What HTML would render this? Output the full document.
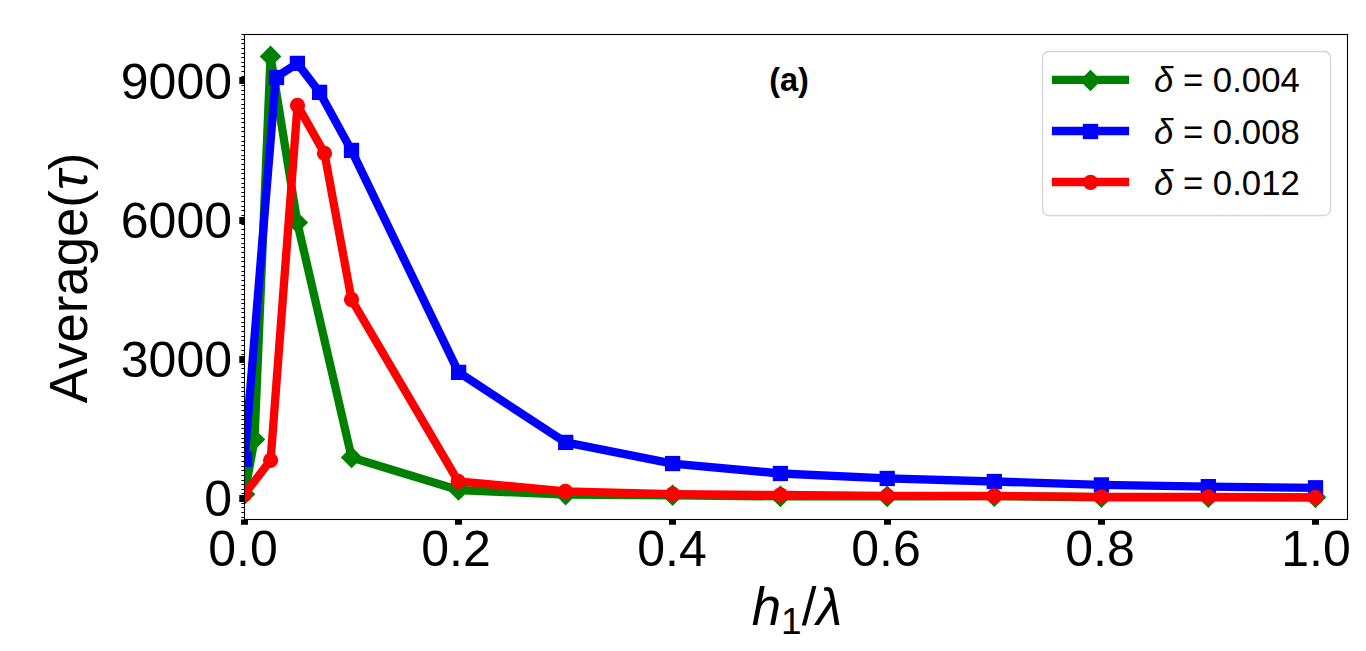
<!DOCTYPE html>
<html><head><meta charset="utf-8"><title>Average(tau) vs h1/lambda</title>
<style>
html,body{margin:0;padding:0;background:#fff;}
body{width:1366px;height:651px;overflow:hidden;position:relative;font-family:"Liberation Sans",sans-serif;}
svg{display:block;position:absolute;left:0;top:0;}
svg text{font-family:"Liberation Sans",sans-serif;fill:#000;}
</style></head><body>
<svg width="1366" height="651" viewBox="0 0 1366 651"><defs><clipPath id="ax"><rect x="244.5" y="34.5" width="1103" height="485"/></clipPath></defs>
<rect x="0" y="0" width="1366" height="651" fill="#ffffff"/>
<g clip-path="url(#ax)">
<path d="M244.5 494.3 L254.5 439.45 L270.55 56.4 L297.3 222.45 L351.6 457.4 L458.5 490 L565.6 494.6 L672.6 495.25 L780.4 496.4 L887.2 496.4 L994.3 496.2 L1101.4 497.25 L1208.3 497.25 L1315.5 497.35" fill="none" stroke="#008000" stroke-width="8.33" stroke-linejoin="round" stroke-linecap="square"/><path d="M244.5 484.48 L254.32 494.3 L244.5 504.12 L234.68 494.3 Z" fill="#008000" stroke="#008000" stroke-width="1.39" stroke-linejoin="miter"/><path d="M254.5 429.63 L264.32 439.45 L254.5 449.27 L244.68 439.45 Z" fill="#008000" stroke="#008000" stroke-width="1.39" stroke-linejoin="miter"/><path d="M270.55 46.58 L280.37 56.4 L270.55 66.22 L260.73 56.4 Z" fill="#008000" stroke="#008000" stroke-width="1.39" stroke-linejoin="miter"/><path d="M297.3 212.63 L307.12 222.45 L297.3 232.27 L287.48 222.45 Z" fill="#008000" stroke="#008000" stroke-width="1.39" stroke-linejoin="miter"/><path d="M351.6 447.58 L361.42 457.4 L351.6 467.22 L341.78 457.4 Z" fill="#008000" stroke="#008000" stroke-width="1.39" stroke-linejoin="miter"/><path d="M458.5 480.18 L468.32 490 L458.5 499.82 L448.68 490 Z" fill="#008000" stroke="#008000" stroke-width="1.39" stroke-linejoin="miter"/><path d="M565.6 484.78 L575.42 494.6 L565.6 504.42 L555.78 494.6 Z" fill="#008000" stroke="#008000" stroke-width="1.39" stroke-linejoin="miter"/><path d="M672.6 485.43 L682.42 495.25 L672.6 505.07 L662.78 495.25 Z" fill="#008000" stroke="#008000" stroke-width="1.39" stroke-linejoin="miter"/><path d="M780.4 486.58 L790.22 496.4 L780.4 506.22 L770.58 496.4 Z" fill="#008000" stroke="#008000" stroke-width="1.39" stroke-linejoin="miter"/><path d="M887.2 486.58 L897.02 496.4 L887.2 506.22 L877.38 496.4 Z" fill="#008000" stroke="#008000" stroke-width="1.39" stroke-linejoin="miter"/><path d="M994.3 486.38 L1004.12 496.2 L994.3 506.02 L984.48 496.2 Z" fill="#008000" stroke="#008000" stroke-width="1.39" stroke-linejoin="miter"/><path d="M1101.4 487.43 L1111.22 497.25 L1101.4 507.07 L1091.58 497.25 Z" fill="#008000" stroke="#008000" stroke-width="1.39" stroke-linejoin="miter"/><path d="M1208.3 487.43 L1218.12 497.25 L1208.3 507.07 L1198.48 497.25 Z" fill="#008000" stroke="#008000" stroke-width="1.39" stroke-linejoin="miter"/><path d="M1315.5 487.53 L1325.32 497.35 L1315.5 507.17 L1305.68 497.35 Z" fill="#008000" stroke="#008000" stroke-width="1.39" stroke-linejoin="miter"/>
<path d="M244.5 459.3 L275.8 77.2 L297.4 63.4 L319.6 92.35 L351.5 150.4 L458.6 372.35 L565.7 442.4 L672.6 463.55 L780.4 473.5 L887.2 478.45 L994.3 481.5 L1101.4 484.9 L1208.3 486.6 L1315.5 487.8" fill="none" stroke="#0000ff" stroke-width="8.33" stroke-linejoin="round" stroke-linecap="square"/><rect x="237.56" y="452.36" width="13.89" height="13.89" fill="#0000ff" stroke="#0000ff" stroke-width="1.39"/><rect x="269.56" y="70.56" width="13.89" height="13.89" fill="#0000ff" stroke="#0000ff" stroke-width="1.39"/><rect x="290.46" y="56.46" width="13.89" height="13.89" fill="#0000ff" stroke="#0000ff" stroke-width="1.39"/><rect x="312.66" y="85.41" width="13.89" height="13.89" fill="#0000ff" stroke="#0000ff" stroke-width="1.39"/><rect x="344.56" y="143.46" width="13.89" height="13.89" fill="#0000ff" stroke="#0000ff" stroke-width="1.39"/><rect x="451.66" y="365.41" width="13.89" height="13.89" fill="#0000ff" stroke="#0000ff" stroke-width="1.39"/><rect x="558.76" y="435.46" width="13.89" height="13.89" fill="#0000ff" stroke="#0000ff" stroke-width="1.39"/><rect x="665.66" y="456.61" width="13.89" height="13.89" fill="#0000ff" stroke="#0000ff" stroke-width="1.39"/><rect x="773.46" y="466.56" width="13.89" height="13.89" fill="#0000ff" stroke="#0000ff" stroke-width="1.39"/><rect x="880.26" y="471.51" width="13.89" height="13.89" fill="#0000ff" stroke="#0000ff" stroke-width="1.39"/><rect x="987.36" y="474.56" width="13.89" height="13.89" fill="#0000ff" stroke="#0000ff" stroke-width="1.39"/><rect x="1094.46" y="477.96" width="13.89" height="13.89" fill="#0000ff" stroke="#0000ff" stroke-width="1.39"/><rect x="1201.36" y="479.66" width="13.89" height="13.89" fill="#0000ff" stroke="#0000ff" stroke-width="1.39"/><rect x="1308.56" y="480.86" width="13.89" height="13.89" fill="#0000ff" stroke="#0000ff" stroke-width="1.39"/>
<path d="M244.5 494.25 L270.6 460.3 L297.5 105.3 L324.5 153.4 L351.5 299.5 L458.2 481.4 L565.4 491.3 L672.6 494.2 L780.4 495 L887.2 495.9 L994.3 496 L1101.4 496.8 L1208.3 496.9 L1315.5 497.3" fill="none" stroke="#ff0000" stroke-width="8.33" stroke-linejoin="round" stroke-linecap="square"/><circle cx="244.5" cy="494.25" r="7.64" fill="#ff0000"/><circle cx="270.6" cy="460.3" r="7.64" fill="#ff0000"/><circle cx="297.5" cy="105.3" r="7.64" fill="#ff0000"/><circle cx="324.5" cy="153.4" r="7.64" fill="#ff0000"/><circle cx="351.5" cy="299.5" r="7.64" fill="#ff0000"/><circle cx="458.2" cy="481.4" r="7.64" fill="#ff0000"/><circle cx="565.4" cy="491.3" r="7.64" fill="#ff0000"/><circle cx="672.6" cy="494.2" r="7.64" fill="#ff0000"/><circle cx="780.4" cy="495" r="7.64" fill="#ff0000"/><circle cx="887.2" cy="495.9" r="7.64" fill="#ff0000"/><circle cx="994.3" cy="496" r="7.64" fill="#ff0000"/><circle cx="1101.4" cy="496.8" r="7.64" fill="#ff0000"/><circle cx="1208.3" cy="496.9" r="7.64" fill="#ff0000"/><circle cx="1315.5" cy="497.3" r="7.64" fill="#ff0000"/>
</g>
<path d="M244.5 519.5V524.7M458.5 519.5V524.7M672.5 519.5V524.7M887.5 519.5V524.7M1101.5 519.5V524.7M1315.5 519.5V524.7" stroke="#000" stroke-width="7" fill="none"/>
<path d="M244.5 498.5H239.3M244.5 359.5H239.3M244.5 220.5H239.3M244.5 80.5H239.3" stroke="#000" stroke-width="7" fill="none"/>
<path d="M244.5 517.5H241.42M244.5 512.5H241.42M244.5 507.5H241.42M244.5 503.5H241.42M244.5 498.5H241.42M244.5 493.5H241.42M244.5 489.5H241.42M244.5 484.5H241.42M244.5 480.5H241.42M244.5 475.5H241.42M244.5 470.5H241.42M244.5 466.5H241.42M244.5 461.5H241.42M244.5 456.5H241.42M244.5 452.5H241.42M244.5 447.5H241.42M244.5 442.5H241.42M244.5 438.5H241.42M244.5 433.5H241.42M244.5 428.5H241.42M244.5 424.5H241.42M244.5 419.5H241.42M244.5 415.5H241.42M244.5 410.5H241.42M244.5 405.5H241.42M244.5 401.5H241.42M244.5 396.5H241.42M244.5 391.5H241.42M244.5 387.5H241.42M244.5 382.5H241.42M244.5 377.5H241.42M244.5 373.5H241.42M244.5 368.5H241.42M244.5 364.5H241.42M244.5 359.5H241.42M244.5 354.5H241.42M244.5 350.5H241.42M244.5 345.5H241.42M244.5 340.5H241.42M244.5 336.5H241.42M244.5 331.5H241.42M244.5 326.5H241.42M244.5 322.5H241.42M244.5 317.5H241.42M244.5 312.5H241.42M244.5 308.5H241.42M244.5 303.5H241.42M244.5 299.5H241.42M244.5 294.5H241.42M244.5 289.5H241.42M244.5 285.5H241.42M244.5 280.5H241.42M244.5 275.5H241.42M244.5 271.5H241.42M244.5 266.5H241.42M244.5 261.5H241.42M244.5 257.5H241.42M244.5 252.5H241.42M244.5 247.5H241.42M244.5 243.5H241.42M244.5 238.5H241.42M244.5 234.5H241.42M244.5 229.5H241.42M244.5 224.5H241.42M244.5 220.5H241.42M244.5 215.5H241.42M244.5 210.5H241.42M244.5 206.5H241.42M244.5 201.5H241.42M244.5 196.5H241.42M244.5 192.5H241.42M244.5 187.5H241.42M244.5 183.5H241.42M244.5 178.5H241.42M244.5 173.5H241.42M244.5 169.5H241.42M244.5 164.5H241.42M244.5 159.5H241.42M244.5 155.5H241.42M244.5 150.5H241.42M244.5 145.5H241.42M244.5 141.5H241.42M244.5 136.5H241.42M244.5 131.5H241.42M244.5 127.5H241.42M244.5 122.5H241.42M244.5 118.5H241.42M244.5 113.5H241.42M244.5 108.5H241.42M244.5 104.5H241.42M244.5 99.5H241.42M244.5 94.5H241.42M244.5 90.5H241.42M244.5 85.5H241.42M244.5 80.5H241.42M244.5 76.5H241.42M244.5 71.5H241.42M244.5 66.5H241.42M244.5 62.5H241.42M244.5 57.5H241.42M244.5 53.5H241.42M244.5 48.5H241.42M244.5 43.5H241.42M244.5 39.5H241.42M244.5 34.5H241.42" stroke="#000" stroke-width="1" fill="none"/>
<rect x="244.5" y="34.5" width="1103" height="485" fill="none" stroke="#000" stroke-width="1.1"/>
<rect x="1042.5" y="51.5" width="288" height="164" rx="6.3" ry="6.3" fill="#ffffff" fill-opacity="0.8" stroke="#cccccc" stroke-opacity="0.8" stroke-width="1.39"/>
<path d="M1051.9 79.9H1129.1" stroke="#008000" stroke-width="8.33" fill="none"/>
<path d="M1090.5 70.63 L1100.32 80.45 L1090.5 90.27 L1080.68 80.45 Z" fill="#008000" stroke="#008000" stroke-width="1.39" stroke-linejoin="miter"/>
<path d="M1051.9 131H1129.1" stroke="#0000ff" stroke-width="8.33" fill="none"/>
<rect x="1083.56" y="124.56" width="13.89" height="13.89" fill="#0000ff" stroke="#0000ff" stroke-width="1.39"/>
<path d="M1051.9 182H1129.1" stroke="#ff0000" stroke-width="8.33" fill="none"/>
<circle cx="1090.5" cy="182.4" r="7.64" fill="#ff0000"/>
<text x="232" y="516.3" font-size="50" text-anchor="end">0</text>
<text x="232" y="376.8" font-size="50" text-anchor="end">3000</text>
<text x="232" y="238.3" font-size="50" text-anchor="end">6000</text>
<text x="232" y="98.9" font-size="50" text-anchor="end">9000</text>
<text x="243" y="565.9" font-size="50" text-anchor="middle">0.0</text>
<text x="456" y="565.9" font-size="50" text-anchor="middle">0.2</text>
<text x="672" y="565.9" font-size="50" text-anchor="middle">0.4</text>
<text x="886" y="565.9" font-size="50" text-anchor="middle">0.6</text>
<text x="1100" y="565.9" font-size="50" text-anchor="middle">0.8</text>
<text x="1316" y="565.9" font-size="50" text-anchor="middle">1.0</text>
<text x="797" y="625" font-size="52.78" text-anchor="middle"><tspan font-style="italic">h</tspan><tspan font-size="37" dy="8.8">1</tspan><tspan dy="-8.8">/</tspan><tspan font-style="italic">λ</tspan></text>
<text x="789" y="90.7" font-size="32.5" font-weight="bold" text-anchor="middle">(a)</text>
<text x="1154" y="91.7" font-size="34.72"><tspan font-style="italic">δ</tspan> = 0.004</text>
<text x="1154" y="143.7" font-size="34.72"><tspan font-style="italic">δ</tspan> = 0.008</text>
<text x="1154" y="194.7" font-size="34.72"><tspan font-style="italic">δ</tspan> = 0.012</text>
<text x="86.8" y="278" font-size="52.78" text-anchor="middle" transform="rotate(-90 86.8 278)">Average(<tspan font-style="italic">τ</tspan>)</text>
</svg>
</body></html>
